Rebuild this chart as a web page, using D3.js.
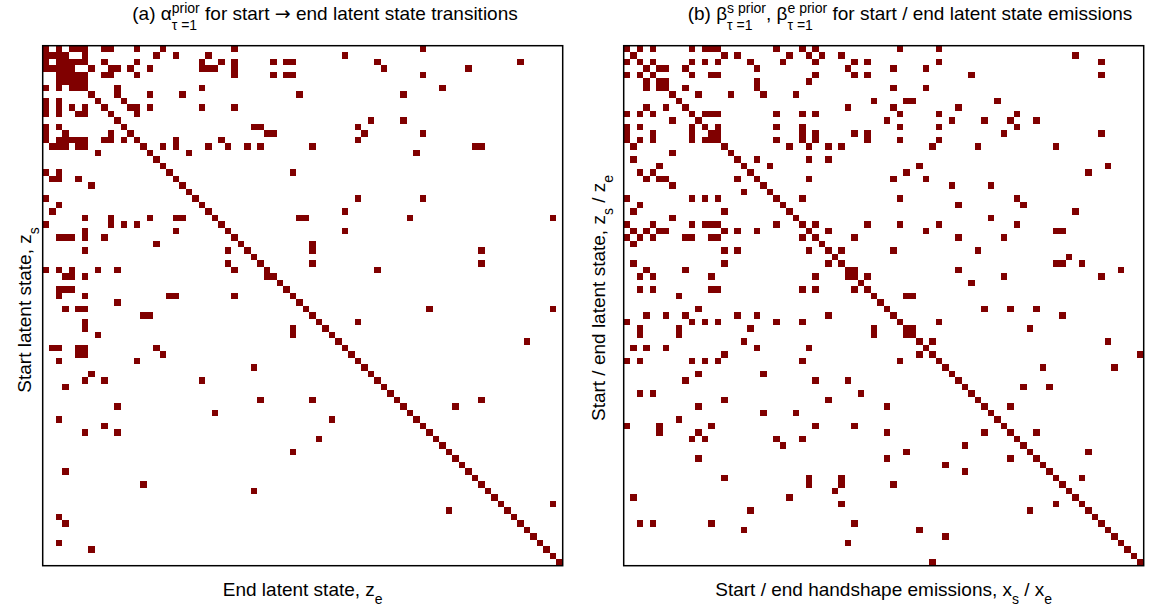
<!DOCTYPE html>
<html><head><meta charset="utf-8">
<script src="https://cdn.jsdelivr.net/npm/d3@7"></script>
<style>
body{margin:0;background:#fff;}
text{font-family:"Liberation Sans",Arial,Helvetica,sans-serif;fill:#000;white-space:pre;}
</style></head>
<body><svg id="chart" width="1149" height="612"></svg>
<script>
// Number of latent states / emissions (square matrices)
const nStates = d3.range(80);

// (a) alpha prior: for each start state (row), the end states (columns) with non-zero prior
const alphaPrior = [
 [0,2,4,5,6,9,10,14,18,29,58],
 [0,1,2,3,6,17,20,25,46],
 [0,2,3,4,5,6,9,14,24,27,29,35,37,38,51,73],
 [0,1,2,3,4,7,10,11,13,16,24,25,26,29,52,65],
 [2,3,4,5,6,9,10,14,29,35,37,38,58],
 [2,3,4,5,6],
 [0,2,4,5,6,11,24,61],
 [7,11,16,21,39,55],
 [0,2,8,12],
 [0,2,4,6,9,13,14,16,24,29],
 [0,2,5,6,10,14],
 [11,50,55],
 [0,2,12,32,33,48],
 [0,3,10,13,34,35,49,58],
 [0,2,3,4,5,6,9,10,12,14,20,27,48],
 [1,2,3,5,6,15,18,20,25,28,31,33,41,66,67],
 [8,16,22,57],
 [17],
 [18],
 [0,2,19,38],
 [1,2,5,20],
 [7,21],
 [22],
 [0,23,48,58],
 [2,24],
 [1,25,46],
 [6,10,16,20,21,26,39,40,56,78],
 [0,10,12,14,27],
 [6,20,28,46],
 [2,3,4,6,9,29],
 [17,30,41],
 [6,28,31,41,67],
 [32],
 [28,33,41,67],
 [0,2,4,8,11,29,34,51],
 [3,4,6,34,35],
 [36],
 [2,3,4,37],
 [2,6,19,20,29,38],
 [11,39],
 [3,5,6,40,59,78],
 [15,16,41],
 [6,42,48],
 [6,38,43],
 [8,38,44],
 [45,74],
 [1,2,5,6,17,46],
 [5,6,18,47],
 [2,14,48],
 [32,49],
 [7,50],
 [6,9,24,51],
 [3,52],
 [53],
 [33,41,54,67],
 [11,55,63],
 [26,56],
 [2,44,57],
 [9,58],
 [6,11,59],
 [42,60],
 [61],
 [38,62],
 [63],
 [64],
 [3,65],
 [66],
 [15,67],
 [32,68],
 [69],
 [70,78],
 [62,71],
 [2,72],
 [3,73],
 [74],
 [75],
 [2,76],
 [7,77],
 [78],
 [79]
];

// (b) beta prior: for each start/end latent state (row), the handshape emissions (columns) with non-zero prior
const betaPrior = [
 [0,2,4,10,12,13,14,23,27,29,42,48],
 [1,15,17,25,28,30,33,69],
 [0,2,4,10,12,14,19,24,29,35,37,48,73],
 [3,5,6,9,20,34,41,46],
 [0,2,4,10,13,14,29,35,37,53,73],
 [3,5,6,20,28],
 [3,5,6,9,20,41,46],
 [7,11,16,21,26],
 [8,38,43,44,57],
 [3,6,9,34,41,51],
 [0,2,4,10,12,13,14,23,27,29,42,48,60],
 [7,11,40,50,55,59,63],
 [0,2,10,12,14,23,27,42,48,60],
 [0,4,10,13,14,27,29,35,37,58,73],
 [0,2,4,10,12,13,14,23,27,29,37,42,48],
 [1,15,25,28,31,33,47,54,66],
 [7,16],
 [1,17,20,28,31],
 [5,18,22,45,74],
 [2,4,19,43,71],
 [3,5,6,17,20,28,41,46],
 [7,21,50,56],
 [18,22],
 [0,10,12,14,23,27,42,60],
 [2,24,51,61],
 [1,15,25,69],
 [7,26,56],
 [0,4,10,12,13,14,23,27,29,37,42,48,60],
 [1,3,5,6,15,17,20,28,31,46,66,67],
 [0,2,4,9,10,13,14,27,29,35,51,58],
 [1,30],
 [15,17,28,31,33,41,54],
 [32,68],
 [1,15,31,33,66,67,70],
 [3,9,34,35,51,76],
 [2,4,13,29,34,35,37,58,73],
 [36,53],
 [2,4,13,14,27,29,35,37],
 [8,38,43,44],
 [39],
 [11,40,55,59,63],
 [3,6,9,17,20,31,41,67],
 [0,10,12,14,23,27,42,48],
 [2,8,19,38,43,44,62],
 [2,8,38,43,44],
 [18,45,47,74],
 [1,3,6,20,28,46],
 [15,45,47,79],
 [0,2,10,12,14,27,42,48],
 [49,64,75],
 [11,21,50],
 [9,29,34,51],
 [52,61,65],
 [2,4,36,53],
 [15,31,54],
 [11,40,55,59],
 [21,26,56],
 [8,57],
 [0,5,13,29,35,58],
 [5,11,40,55,59,63],
 [10,12,23,27,60],
 [24,52,61],
 [43,62,71],
 [11,40,59,63],
 [49,64],
 [52,65],
 [15,28,33,66,70],
 [28,33,41,67],
 [32,68],
 [1,25,69],
 [33,66,70],
 [19,62,71],
 [72],
 [2,4,13,35,73],
 [18,45,74],
 [49,75],
 [34,76],
 [77],
 [78],
 [47,79]
];

// Text content
const titleA = ["(a) α", {sup:"prior", sub:"τ =1"}, " for start ", {text:"→", family:"DejaVu Sans"}, " end latent state transitions"];
const titleB = ["(b) β", {sup:"s prior", sub:"τ =1"}, ", β", {sup:"e prior", sub:"τ =1"}, " for start / end latent state emissions"];
const xLabelA = ["End latent state, z", {sub:"e"}];
const xLabelB = ["Start / end handshape emissions, x", {sub:"s"}, " / x", {sub:"e"}];
const yLabelA = ["Start latent state, z", {sub:"s"}];
const yLabelB = ["Start / end latent state, z", {sub:"s"}, " / z", {sub:"e"}];

const svg = d3.select("#chart");
const cellColor = "#800000";
const size = 520;

function richText(parent, segs, opt) {
  const g = parent.append("g");
  let cx = 0;
  const main = opt.size, small = opt.small;
  segs.forEach(s => {
    if (typeof s === "string" || s.text) {
      const str = typeof s === "string" ? s : s.text;
      const t = g.append("text").attr("x", cx).attr("y", 0).style("font-size", main + "px").text(str);
      if (s.family) t.style("font-family", s.family);
      cx += t.node().getComputedTextLength();
    } else {
      let w = 0;
      if (s.sup) {
        const t = g.append("text").attr("x", cx).attr("y", -opt.supShift).style("font-size", small + "px").text(s.sup);
        w = Math.max(w, t.node().getComputedTextLength());
      }
      if (s.sub) {
        const t = g.append("text").attr("x", cx).attr("y", opt.subShift).style("font-size", small + "px").text(s.sub);
        w = Math.max(w, t.node().getComputedTextLength());
      }
      cx += w;
    }
  });
  const rot = opt.rotate ? " rotate(-90)" : "";
  g.attr("transform", `translate(${opt.x},${opt.y})${rot} translate(${-cx/2},0)`);
  return g;
}

function panel(x0, y0, data) {
  const x = d3.scaleBand().domain(nStates).range([x0, x0 + size]).padding(0);
  const y = d3.scaleBand().domain(nStates).range([y0, y0 + size]).padding(0);
  const cells = [];
  data.forEach((cols, r) => cols.forEach(c => cells.push({r, c})));
  const g = svg.append("g");
  g.append("rect").attr("x", x0).attr("y", y0).attr("width", size).attr("height", size).attr("fill", "#fff");
  g.selectAll("rect.cell").data(cells).join("rect").attr("class", "cell")
    .attr("x", d => x(d.c)).attr("y", d => y(d.r))
    .attr("width", x.bandwidth()).attr("height", y.bandwidth())
    .attr("fill", cellColor).attr("shape-rendering", "crispEdges");
  g.append("rect").attr("x", x0).attr("y", y0).attr("width", size).attr("height", size)
    .attr("fill", "none").attr("stroke", "#000").attr("stroke-width", 1.5);
}

panel(42.7, 45.7, alphaPrior);
panel(623.7, 45.7, betaPrior);

const tOpt = {size:19, small:14, supShift:6.5, subShift:10};
richText(svg, titleA, Object.assign({x:325, y:19.5}, tOpt));
richText(svg, titleB, Object.assign({x:910, y:19.5}, tOpt));
const lOpt = {size:19, small:14, supShift:8, subShift:8};
richText(svg, xLabelA, Object.assign({x:302.7, y:596}, lOpt));
richText(svg, xLabelB, Object.assign({x:883.7, y:596}, lOpt));
richText(svg, yLabelA, Object.assign({x:31, y:310, rotate:true}, lOpt));
richText(svg, yLabelB, Object.assign({x:605, y:298, rotate:true}, lOpt));
</script></body></html>
